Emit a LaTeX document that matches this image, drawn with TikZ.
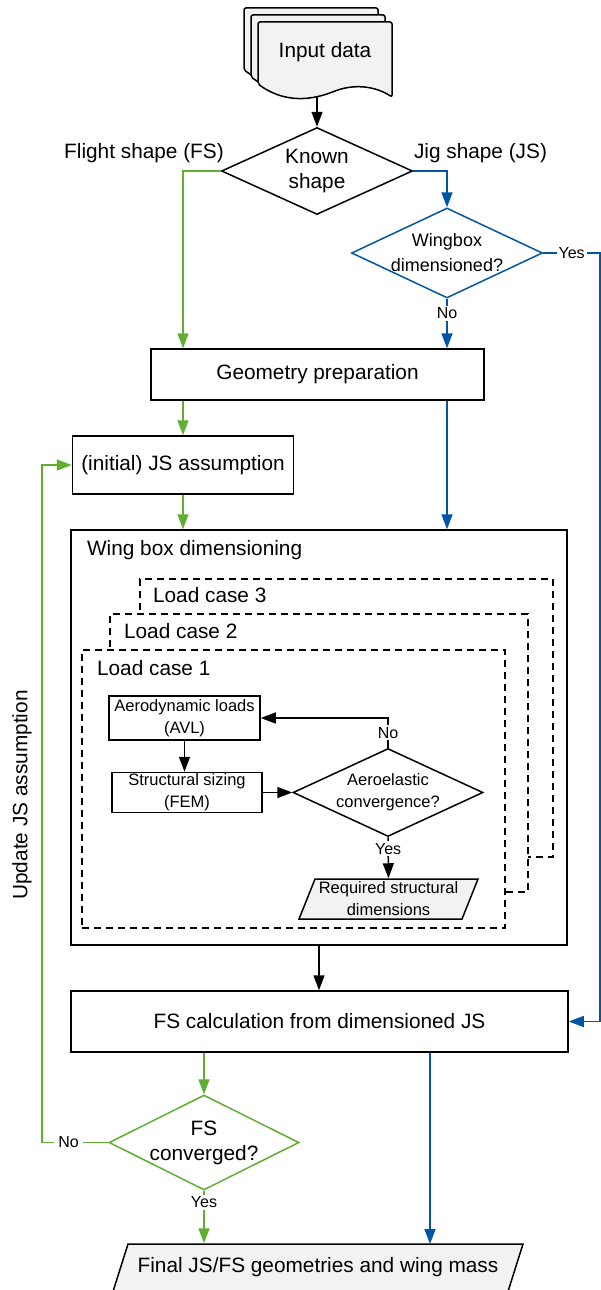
\documentclass[tikz,border=0pt]{standalone}
\usepackage{fontspec}
\setmainfont{Liberation Sans}
\usetikzlibrary{shapes.geometric,arrows.meta}
\definecolor{fsgreen}{RGB}{96,175,50}
\definecolor{jsblue}{RGB}{0,85,165}
\definecolor{lgray}{RGB}{242,242,242}
\begin{document}
\begin{tikzpicture}[x=1pt,y=-1pt,
  font=\fontsize{20.8}{25}\selectfont,
  line width=1.5pt,
  arr/.style={-{Triangle[length=15pt,width=11pt]}},
  box/.style={draw,rectangle,inner sep=0pt,align=center},
  dia/.style={draw,diamond,inner sep=-5pt,align=center},
  small/.style={font=\fontsize{16.5}{22}\selectfont},
  lbl/.style={fill=white,text=black,inner sep=2pt,font=\fontsize{16}{19}\selectfont},
  dbox/.style={draw,fill=white,dash pattern=on 7pt off 5pt,inner sep=0pt},
  card/.style={draw,fill=lgray,rounded corners=2pt},
  para/.style={draw,fill=lgray}
]
\useasboundingbox (0,0) rectangle (601,1290);

% input data (stacked documents)
\foreach \d in {14,7,0}{
  \draw[card,shift={(-\d,-\d)}] (258,84) -- (258,22) -- (392,22) -- (392,97)
     .. controls (375,86) and (355,84) .. (335,91)
     .. controls (305,103) and (280,100) .. (258,84) -- cycle;
}
\node (inp) at (325,52) {Input data};
\coordinate (docb) at (317,97);

% decision: known shape
\node[dia,aspect=2.2,minimum width=191pt,minimum height=87pt] (ks) at (317,171) {Known\\shape};
\node (fslab) at (144,153) {Flight shape (FS)};
\node (jslab) at (480.5,153) {Jig shape (JS)};

% wingbox dimensioned?
\node[dia,draw=jsblue,aspect=2.12,minimum width=191pt,minimum height=90pt,
      font=\fontsize{18}{25}\selectfont] (wb) at (447,253) {Wingbox\\dimensioned?};

% geometry preparation
\node[box,minimum width=333pt,minimum height=51pt] (geo) at (317.5,374.5) {Geometry preparation};
% JS assumption
\node[box,minimum width=221pt,minimum height=58pt] (jsa) at (183,465) {(initial) JS assumption};

% wing box dimensioning
\node[box,minimum width=496pt,minimum height=415pt] (wbd) at (319,737.5) {};
\node[anchor=base west] (wbdlab) at (83,555) {Wing box dimensioning};

% load cases
\node[dbox,minimum width=413pt,minimum height=278pt] (lc3) at (346.5,718) {};
\node[anchor=base west] (lc3lab) at (149,602) {Load case 3};
\node[dbox,minimum width=418pt,minimum height=278pt] (lc2) at (319,753) {};
\node[anchor=base west] (lc2lab) at (120,638) {Load case 2};
\node[dbox,minimum width=423pt,minimum height=278pt] (lc1) at (293.5,789) {};
\node[anchor=base west] (lc1lab) at (93,675) {Load case 1};

% inner loop
\node[box,small,minimum width=151pt,minimum height=44pt] (aero) at (184.5,718) {Aerodynamic loads\\(AVL)};
\node[box,small,minimum width=150pt,minimum height=40pt] (struct) at (187,792.5) {Structural sizing\\(FEM)};
\node[dia,small,aspect=2.16,minimum width=190pt,minimum height=88pt] (aeq) at (388,792.5) {Aeroelastic\\convergence?};
\draw[para] (315,879) -- (478,879) -- (462,919) -- (299,919) -- cycle;
\node[small,align=center,minimum width=147pt,minimum height=40pt,inner sep=0pt] (req) at (388.5,899) {Required structural\\dimensions};

% FS calculation
\node[box,minimum width=497pt,minimum height=61pt] (fsc) at (319.5,1021.5) {FS calculation from dimensioned JS};

% FS converged?
\node[dia,draw=fsgreen,aspect=2,minimum width=190pt,minimum height=95pt] (fsd) at (204,1142.5) {FS\\converged?};

% final
\draw[para] (128,1244) -- (523,1244) -- (508,1291.5) -- (113,1291.5) -- cycle;
\node[minimum width=380pt,minimum height=47pt,inner sep=0pt] (final) at (318,1267.5) {Final JS/FS geometries and wing mass};
\coordinate (fin2) at (430,1244);

% update label
\node[rotate=90] (upd) at (22,795) {Update JS assumption};

% connectors
\draw[arr] (docb) -- (ks.north);
\draw[fsgreen,arr] (ks.west) -| (jsa.north |- geo.north);
\draw[jsblue,arr] (ks.east) -| (wb.north);
\draw[jsblue,arr] (wb.south) -- (wb.south |- geo.north) node[lbl,pos=0.29] {No};
\draw[jsblue,arr] (wb.east) -- node[lbl] {Yes} (600,253) |- (fsc.east);
\draw[fsgreen,arr] (jsa.north |- geo.south) -- (jsa.north);
\draw[jsblue,arr] (wb.south |- geo.south) -- (wb.south |- wbd.north);
\draw[fsgreen,arr] (jsa.south) -- (jsa.south |- wbd.north);
\draw[arr] (aero.south) -- (aero.south |- struct.north);
\draw[arr] (struct.east) -- (aeq.west);
\draw[arr] (aeq.north) -- node[lbl] {No} (aeq.north |- aero.east) -- (aero.east);
\draw[arr] (aeq.south) -- (req.north) node[lbl,pos=0.28] {Yes};
\draw[arr] (wbd.south) -- (wbd.south |- fsc.north);
\draw[fsgreen,arr] (fsd.north |- fsc.south) -- (fsd.north);
\draw[jsblue,arr] (fsc.south -| fin2) -- (fin2);
\draw[fsgreen,arr] (fsd.south) -- (fsd.south |- final.north) node[lbl,pos=0.22] {Yes};
\draw[fsgreen,arr] (fsd.west) -- node[lbl,inner sep=4pt,pos=0.6] {No} (42,1142.5) |- (jsa.west);
\end{tikzpicture}
\end{document}
